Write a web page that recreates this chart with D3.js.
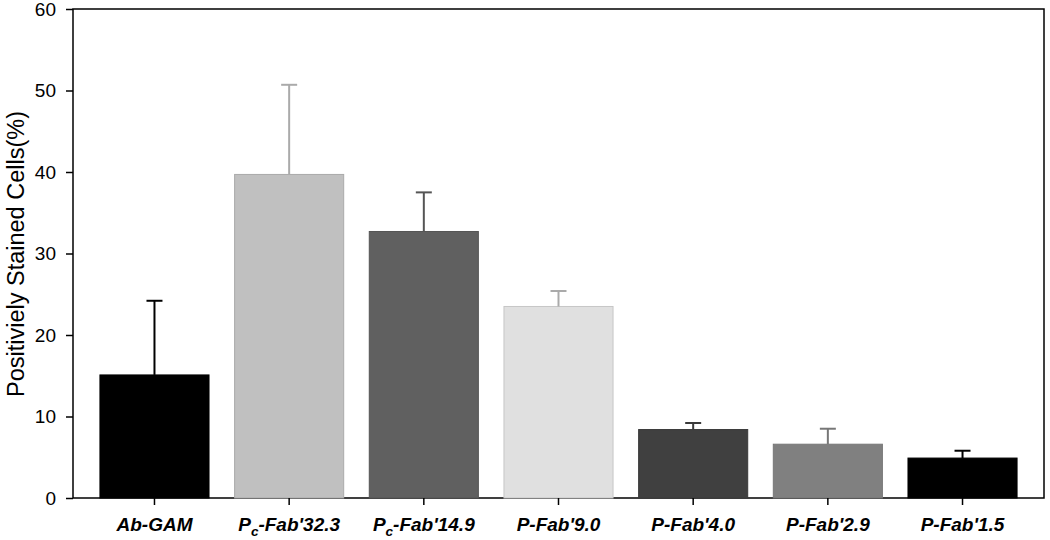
<!DOCTYPE html>
<html><head><meta charset="utf-8">
<script src="https://cdn.jsdelivr.net/npm/d3@7"></script>
<style>body{margin:0;background:#fff;}svg{display:block;font-family:"Liberation Sans",Arial,sans-serif;}</style>
</head><body>
<svg id="c" width="1050" height="540"></svg>
<script>
const categories = ["Ab-GAM", "Pc-Fab'32.3", "Pc-Fab'14.9", "P-Fab'9.0", "P-Fab'4.0", "P-Fab'2.9", "P-Fab'1.5"];
const labelMain = ["Ab-GAM", "P", "P", "P-Fab'9.0", "P-Fab'4.0", "P-Fab'2.9", "P-Fab'1.5"];
const labelSub = ["", "c", "c", "", "", "", ""];
const labelRest = ["", "-Fab'32.3", "-Fab'14.9", "", "", "", ""];
const values = [15.1, 39.7, 32.7, 23.5, 8.4, 6.6, 4.9];
const errorTops = [24.2, 50.7, 37.5, 25.4, 9.2, 8.5, 5.8];
const fills = ["#000000", "#c0c0c0", "#606060", "#e0e0e0", "#404040", "#808080", "#000000"];
const strokes = ["#000000", "#aaaaaa", "#555555", "#c6c6c6", "#3a3a3a", "#777777", "#000000"];
const errColors = ["#000000", "#aaaaaa", "#555555", "#aaaaaa", "#3a3a3a", "#777777", "#000000"];
const yTicks = [0, 10, 20, 30, 40, 50, 60];

const svg = d3.select("#c");
const L = 73, R = 1044, T = 9, B = 498;
const x = d3.scaleBand().domain(categories).range([L, R]).paddingInner(0.19).paddingOuter(0.2);
const y = d3.scaleLinear().domain([0, 60]).range([B, T]);

// frame
svg.append("rect").attr("x", L).attr("y", T).attr("width", R - L).attr("height", B - T)
  .attr("fill", "none").attr("stroke", "#000").attr("stroke-width", 1.5);

// bars
svg.selectAll("rect.bar").data(categories).enter().append("rect").attr("class", "bar")
  .attr("x", d => x(d)).attr("width", x.bandwidth())
  .attr("y", (d, i) => y(values[i])).attr("height", (d, i) => B - y(values[i]))
  .attr("fill", (d, i) => fills[i]).attr("stroke", (d, i) => strokes[i]).attr("stroke-width", 1);

// error bars
const eg = svg.selectAll("g.err").data(categories).enter().append("g").attr("class", "err");
eg.append("line")
  .attr("x1", d => x(d) + x.bandwidth() / 2).attr("x2", d => x(d) + x.bandwidth() / 2)
  .attr("y1", (d, i) => y(values[i])).attr("y2", (d, i) => y(errorTops[i]))
  .attr("stroke", (d, i) => errColors[i]).attr("stroke-width", 2);
eg.append("line")
  .attr("x1", d => x(d) + x.bandwidth() / 2 - 8).attr("x2", d => x(d) + x.bandwidth() / 2 + 8)
  .attr("y1", (d, i) => y(errorTops[i])).attr("y2", (d, i) => y(errorTops[i]))
  .attr("stroke", (d, i) => errColors[i]).attr("stroke-width", 2);

// y axis
const ya = svg.append("g").attr("transform", `translate(${L},0)`)
  .call(d3.axisLeft(y).tickValues(yTicks).tickSize(7).tickPadding(10).tickFormat(d3.format("d")));
ya.select(".domain").remove();
ya.selectAll(".tick line").attr("stroke", "#000").attr("stroke-width", 1.5);
ya.selectAll(".tick text").attr("font-size", 19).attr("fill", "#000").attr("font-family", "Liberation Sans, Arial, sans-serif");

// x axis
const xa = svg.append("g").attr("transform", `translate(0,${B})`)
  .call(d3.axisBottom(x).tickSize(7).tickFormat(""));
xa.select(".domain").remove();
xa.selectAll(".tick line").attr("stroke", "#000").attr("stroke-width", 1.5);

// x labels
categories.forEach((c, i) => {
  const t = svg.append("text").attr("x", x(c) + x.bandwidth() / 2).attr("y", 531)
    .attr("text-anchor", "middle").attr("font-size", 19).attr("font-weight", "bold")
    .attr("font-style", "italic").attr("fill", "#000");
  t.append("tspan").text(labelMain[i]);
  if (labelSub[i]) {
    t.append("tspan").attr("dy", 5).attr("font-size", 13.5).text(labelSub[i]);
    t.append("tspan").attr("dy", -5).text(labelRest[i]);
  }
});

// y title
svg.append("text").attr("transform", "translate(24,254) rotate(-90)")
  .attr("text-anchor", "middle").attr("font-size", 23.5).attr("fill", "#000")
  .text("Positiviely Stained Cells(%)");
</script>
</body></html>
